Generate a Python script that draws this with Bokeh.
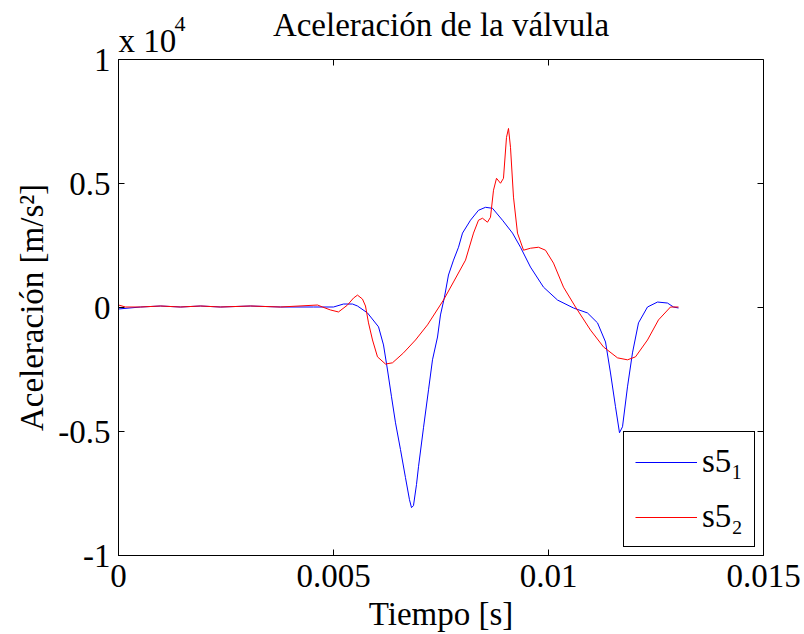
import math
from bokeh.plotting import figure
from bokeh.models import Range1d, FixedTicker, Legend, LegendItem, Title
from bokeh.embed import file_html
from bokeh.resources import INLINE

# time [s]
t1 = [0, 0.000512, 0.000977, 0.001442, 0.001907, 0.002372, 0.00307, 0.003767, 0.004535, 0.005,
      0.005233, 0.005442, 0.005558, 0.005791, 0.006047, 0.006163, 0.006256, 0.006349, 0.006442,
      0.006558, 0.006674, 0.006767, 0.006814, 0.00686, 0.00693, 0.006977, 0.007093, 0.00721,
      0.007302, 0.007419, 0.007488, 0.007581, 0.007674, 0.007791, 0.007907, 0.008, 0.008186,
      0.008372, 0.008535, 0.008698, 0.00893, 0.009163, 0.009349, 0.009581, 0.009884, 0.01021,
      0.010581, 0.010907, 0.01114, 0.011326, 0.011442, 0.011558, 0.011651, 0.011721, 0.011837,
      0.011953, 0.012093, 0.012302, 0.012535, 0.012767, 0.012907, 0.013023]
# acceleration s5_1 [x 10^4 m/s^2]
a1 = [-0.006, 0.002, 0.006, 0.002, 0.006, 0.002, 0.006, 0.002, 0.002, 0.002,
      0.014, 0.014, 0.006, -0.022, -0.078, -0.151, -0.252, -0.360, -0.465,
      -0.573, -0.686, -0.775, -0.807, -0.799, -0.714, -0.642, -0.485, -0.332,
      -0.211, -0.119, -0.030, 0.042, 0.131, 0.191, 0.243, 0.300, 0.352,
      0.392, 0.404, 0.400, 0.352, 0.300, 0.243, 0.163, 0.082, 0.030,
      -0.002, -0.022, -0.062, -0.139, -0.264, -0.400, -0.505, -0.481, -0.320,
      -0.183, -0.062, 0.002, 0.022, 0.018, 0.002, -0.002]

t2 = [0, 0.000163, 0.000512, 0.000977, 0.001442, 0.001907, 0.002372, 0.00307, 0.003767,
      0.004628, 0.004744, 0.00493, 0.005116, 0.005326, 0.005465, 0.005558, 0.005674, 0.005744,
      0.005814, 0.005907, 0.006023, 0.006209, 0.006372, 0.006628, 0.006907, 0.007186, 0.007558,
      0.007791, 0.00807, 0.008256, 0.008372, 0.008465, 0.008581, 0.008651, 0.008721, 0.008791,
      0.008884, 0.008953, 0.009023, 0.00907, 0.009116, 0.009186, 0.009279, 0.009419, 0.009581,
      0.009767, 0.00993, 0.010116, 0.010349, 0.010628, 0.010977, 0.011279, 0.011605, 0.011837,
      0.012023, 0.012302, 0.012558, 0.012837, 0.013023]
# acceleration s5_2 [x 10^4 m/s^2]
a2 = [0.010, 0.002, 0.002, 0.006, 0.002, 0.006, 0.002, 0.006, 0.002,
      0.010, 0.002, -0.010, -0.018, 0.010, 0.038, 0.050, 0.034, 0.006,
      -0.062, -0.131, -0.199, -0.228, -0.223, -0.183, -0.131, -0.070, 0.030,
      0.103, 0.191, 0.300, 0.352, 0.360, 0.344, 0.364, 0.473, 0.521,
      0.501, 0.521, 0.686, 0.722, 0.646, 0.445, 0.300, 0.231, 0.239,
      0.243, 0.231, 0.179, 0.082, 0.002, -0.091, -0.159, -0.203, -0.211,
      -0.199, -0.131, -0.050, 0.002, 0.002]

x_ticks = [0, 0.005, 0.01, 0.015]
x_tick_labels = ["0", "0.005", "0.01", "0.015"]
y_ticks = [-1, -0.5, 0, 0.5, 1]
y_tick_labels = ["-1", "-0.5", "0", "0.5", "1"]
series_names = ["s5\u2081", "s5\u2082"]
title_text = "Aceleración de la válvula"
exponent_base = "x 10"
exponent_power = "4"
x_label = "Tiempo [s]"
y_label = "Aceleración [m/s\u00b2]"

FONT = "Liberation Serif"
X_MIN, X_MAX = 0, 0.015
Y_MIN, Y_MAX = -1, 1

p = figure(width=804, height=634, output_backend="svg", toolbar_location=None,
           x_range=Range1d(X_MIN, X_MAX), y_range=Range1d(Y_MIN, Y_MAX),
           min_border_left=118, min_border_right=41, min_border_top=59, min_border_bottom=78)
p.grid.visible = False
p.outline_line_color = "black"
p.outline_line_width = 1
p.background_fill_color = "white"
p.border_fill_color = "white"

def style_axis(ax, ticks, labels):
    ax.ticker = FixedTicker(ticks=ticks)
    ax.major_label_overrides = {t: l for t, l in zip(ticks, labels)}
    ax.minor_tick_line_color = None
    ax.major_tick_in = 6
    ax.major_tick_out = 0
    ax.axis_line_color = "black"
    ax.major_tick_line_color = "black"
    ax.major_label_text_font = FONT
    ax.major_label_text_color = "black"
    ax.major_label_text_font_size = "33px"
    ax.axis_label_text_font = FONT
    ax.axis_label_text_font_size = "33px"
    ax.axis_label_text_font_style = "normal"
    ax.axis_label_text_color = "black"

style_axis(p.xaxis[0], x_ticks, x_tick_labels)
style_axis(p.yaxis[0], y_ticks, y_tick_labels)
p.xaxis[0].major_label_standoff = 9
p.yaxis[0].major_label_standoff = 8
p.xaxis[0].axis_label = x_label
p.yaxis[0].axis_label = y_label
p.xaxis[0].axis_label_standoff = 6
p.yaxis[0].axis_label_standoff = 5

# inward ticks on the top and right edges of the box (half of each dash is clipped by the frame)
p.scatter(x=x_ticks, y=[Y_MAX] * len(x_ticks), marker="dash", size=12, angle=math.pi / 2,
          line_color="black", line_width=1)
p.scatter(x=[X_MAX] * len(y_ticks), y=y_ticks, marker="dash", size=12, angle=0,
          line_color="black", line_width=1)

r1 = p.line(t1, a1, line_color="#0000ff", line_width=1)
r2 = p.line(t2, a2, line_color="#ff0000", line_width=1)

legend = Legend(items=[LegendItem(label=series_names[0], renderers=[r1]),
                       LegendItem(label=series_names[1], renderers=[r2])],
                location=(505, 8))
legend.label_text_font = FONT
legend.label_text_font_size = "33px"
legend.label_text_color = "black"
legend.border_line_color = "black"
legend.border_line_width = 1
legend.border_line_alpha = 1
legend.background_fill_color = "white"
legend.background_fill_alpha = 1
legend.padding = 11
legend.margin = 0
legend.spacing = 18
legend.glyph_width = 62
legend.glyph_height = 36
legend.label_height = 36
legend.label_width = 30
legend.label_standoff = 5
p.add_layout(legend)

# titles stack outward from the frame in the order they are added
p.add_layout(Title(text=exponent_base, align="left", text_font=FONT, text_font_size="33px",
                   text_font_style="normal", text_color="black", standoff=2, offset=0), "above")
p.add_layout(Title(text=title_text, align="center", text_font=FONT, text_font_size="33px",
                   text_font_style="normal", text_color="black", standoff=-46), "above")
p.add_layout(Title(text=exponent_power, align="left", text_font=FONT, text_font_size="22px",
                   text_font_style="normal", text_color="black", standoff=-22, offset=56), "above")

open("out.html", "w").write(file_html(p, INLINE))
